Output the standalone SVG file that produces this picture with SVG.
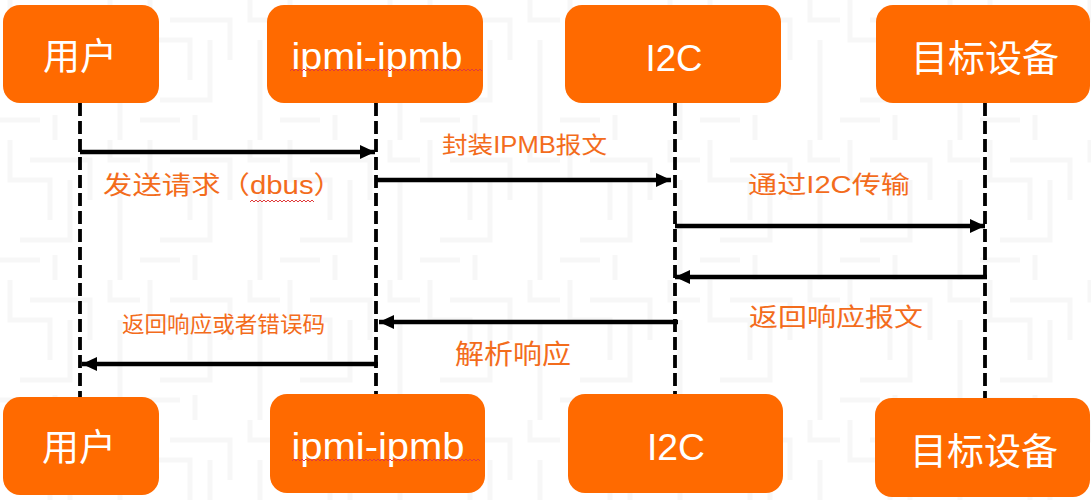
<svg xmlns="http://www.w3.org/2000/svg" width="1091" height="500" viewBox="0 0 1091 500">
<defs>
<style>
.box{fill:#FF6A00;}
.bt{fill:#ffffff;font-family:"Liberation Sans","Noto Sans CJK SC",sans-serif;font-size:37px;text-anchor:middle;}
.lbl{fill:#F36C1C;font-family:"Liberation Sans","Noto Sans CJK SC",sans-serif;}
.life{stroke:#000;stroke-width:3.8;stroke-dasharray:13 5;fill:none;}
.msg{stroke:#000;stroke-width:4.3;fill:none;marker-end:url(#ah);}
.sq{stroke:#E03C3C;stroke-width:1;fill:none;}
.bg{stroke:#f7f7f7;stroke-width:5;fill:none;}
</style>
<marker id="ah" markerUnits="userSpaceOnUse" markerWidth="16" markerHeight="15" refX="15" refY="7" orient="auto">
<path d="M0,0 L15,7 L0,14 z" fill="#000"/>
</marker>
<pattern id="maze" patternUnits="userSpaceOnUse" width="140" height="140">
<path class="bg" d="M10,0 V40 H50 V80 M30,20 H90 V60 M70,40 V100 H20 M0,120 H40 M110,0 V20 H140 M120,40 V140 M55,140 V115"/>
</pattern>
</defs>
<rect width="1091" height="500" fill="#ffffff"/>
<rect width="1091" height="500" fill="url(#maze)"/>

<g id="lifelines">
<line class="life" x1="80" y1="103" x2="80" y2="397"/>
<line class="life" x1="376" y1="103" x2="376" y2="395"/>
<line class="life" x1="675" y1="103" x2="675" y2="395"/>
<line class="life" x1="985" y1="103" x2="985" y2="398"/>
</g>

<g id="user-top"><rect class="box" x="3" y="5" width="156" height="98" rx="17"/><text class="bt" x="80" y="70" font-size="38">用户</text></g>
<g id="ipmb-top"><rect class="box" x="267" y="5" width="216" height="98" rx="17"/><text class="bt" x="377" y="69" textLength="171" lengthAdjust="spacingAndGlyphs">ipmi-ipmb</text><path class="sq" d="M290,71 l2,-2 l2,2 l2,-2 l2,2 l2,-2 l2,2 l2,-2 l2,2 l2,-2 l2,2 l2,-2 l2,2 l2,-2 l2,2 l2,-2 l2,2 l2,-2 l2,2 l2,-2 l2,2 l2,-2 l2,2 l2,-2 l2,2 l2,-2 l2,2 l2,-2 l2,2 l2,-2 l2,2 l2,-2 l2,2 l2,-2 l2,2 l2,-2 l2,2 l2,-2 l2,2 l2,-2 l2,2 l2,-2 l2,2 l2,-2 l2,2 l2,-2 l2,2 l2,-2 l2,2 l2,-2 l2,2 l2,-2 l2,2 l2,-2 l2,2 l2,-2 l2,2 l2,-2 l2,2 l2,-2 l2,2 l2,-2 l2,2 l2,-2 l2,2 l2,-2 l2,2 l2,-2 l2,2 l2,-2 l2,2 l2,-2 l2,2 l2,-2 l2,2 l2,-2 l2,2 l2,-2 l2,2 l2,-2 l2,2 l2,-2 l2,2 l2,-2 l2,2 l2,-2 l2,2 l2,-2 l2,2 l2,-2 l2,2 l2,-2 l2,2 l2,-2 l2,2 l2,-2 l2,2"/></g>
<g id="i2c-top"><rect class="box" x="565" y="5" width="216" height="98" rx="17"/><text class="bt" x="674" y="71" textLength="57" lengthAdjust="spacingAndGlyphs">I2C</text></g>
<g id="dev-top"><rect class="box" x="876" y="5" width="214" height="98" rx="17"/><text class="bt" x="985" y="72" font-size="38">目标设备</text></g>

<g id="user-bottom"><rect class="box" x="3" y="397" width="156" height="98" rx="17"/><text class="bt" x="79" y="461" font-size="38">用户</text></g>
<g id="ipmb-bottom"><rect class="box" x="270" y="394" width="215" height="99" rx="17"/><text class="bt" x="378" y="459" textLength="173" lengthAdjust="spacingAndGlyphs">ipmi-ipmb</text><path class="sq" d="M292,461 l2,-2 l2,2 l2,-2 l2,2 l2,-2 l2,2 l2,-2 l2,2 l2,-2 l2,2 l2,-2 l2,2 l2,-2 l2,2 l2,-2 l2,2 l2,-2 l2,2 l2,-2 l2,2 l2,-2 l2,2 l2,-2 l2,2 l2,-2 l2,2 l2,-2 l2,2 l2,-2 l2,2 l2,-2 l2,2 l2,-2 l2,2 l2,-2 l2,2 l2,-2 l2,2 l2,-2 l2,2 l2,-2 l2,2 l2,-2 l2,2 l2,-2 l2,2 l2,-2 l2,2 l2,-2 l2,2 l2,-2 l2,2 l2,-2 l2,2 l2,-2 l2,2 l2,-2 l2,2 l2,-2 l2,2 l2,-2 l2,2 l2,-2 l2,2 l2,-2 l2,2 l2,-2 l2,2 l2,-2 l2,2 l2,-2 l2,2 l2,-2 l2,2 l2,-2 l2,2 l2,-2 l2,2 l2,-2 l2,2 l2,-2 l2,2 l2,-2 l2,2 l2,-2 l2,2 l2,-2 l2,2 l2,-2 l2,2 l2,-2 l2,2 l2,-2 l2,2"/></g>
<g id="i2c-bottom"><rect class="box" x="568" y="394" width="215" height="99" rx="17"/><text class="bt" x="676" y="460" textLength="58" lengthAdjust="spacingAndGlyphs">I2C</text></g>
<g id="dev-bottom"><rect class="box" x="875" y="398" width="215" height="99" rx="17"/><text class="bt" x="984" y="465" font-size="38">目标设备</text></g>

<g id="connectors">
<line class="msg" x1="80" y1="152" x2="375" y2="152"/>
<line class="msg" x1="376" y1="180" x2="671" y2="180"/>
<line class="msg" x1="675" y1="226" x2="985" y2="226"/>
<line class="msg" x1="987" y1="277" x2="675" y2="277"/>
<line class="msg" x1="678" y1="322" x2="379" y2="322"/>
<line class="msg" x1="378" y1="364" x2="82" y2="364"/>
</g>

<g id="labels">
<text class="lbl" x="103" y="194" font-size="25" textLength="240" lengthAdjust="spacingAndGlyphs">发送请求（dbus）</text>
<path class="sq" d="M250,202 l2,-2 l2,2 l2,-2 l2,2 l2,-2 l2,2 l2,-2 l2,2 l2,-2 l2,2 l2,-2 l2,2 l2,-2 l2,2 l2,-2 l2,2 l2,-2 l2,2 l2,-2 l2,2 l2,-2 l2,2 l2,-2 l2,2 l2,-2 l2,2 l2,-2 l2,2 l2,-2 l2,2 l2,-2 l2,2"/>
<text class="lbl" x="442" y="153" font-size="23" textLength="165" lengthAdjust="spacingAndGlyphs">封装IPMB报文</text>
<text class="lbl" x="748" y="193" font-size="24" textLength="162" lengthAdjust="spacingAndGlyphs">通过I2C传输</text>
<text class="lbl" x="749" y="326" font-size="25" textLength="174" lengthAdjust="spacingAndGlyphs">返回响应报文</text>
<text class="lbl" x="122" y="332" font-size="22" textLength="203" lengthAdjust="spacingAndGlyphs">返回响应或者错误码</text>
<text class="lbl" x="455" y="364" font-size="27" textLength="116" lengthAdjust="spacingAndGlyphs">解析响应</text>
</g>
</svg>
